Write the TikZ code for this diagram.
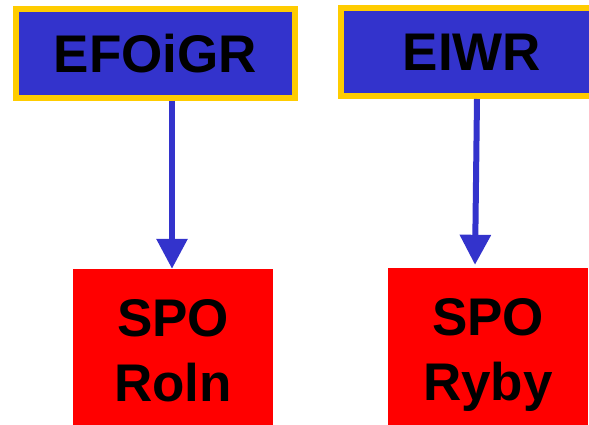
\documentclass[tikz,border=0pt]{standalone}
\usepackage{fontspec}
\setmainfont{Liberation Sans}
\usetikzlibrary{arrows.meta}
\definecolor{boxblue}{RGB}{51,51,204}
\definecolor{boxgold}{RGB}{255,204,0}
\definecolor{boxred}{RGB}{255,0,0}
\begin{document}
\begin{tikzpicture}[x=1pt,y=-1pt,
        topbox/.style={fill=boxblue,draw=boxgold,line width=6pt,inner sep=0pt,
            font=\fontsize{53}{65}\selectfont\bfseries},
        spobox/.style={fill=boxred,inner sep=0pt,align=center,text depth=0pt,
            minimum width=200pt,minimum height=162pt,
            font=\fontsize{53}{65}\selectfont\bfseries},
        link/.style={draw=boxblue,line width=6pt,-{Triangle[width=30pt,length=30pt]}}]
        \useasboundingbox(0,0)rectangle(589,425);
        \node[topbox,minimum width=279.5pt,minimum height=89pt] (efoigr) at (155.5,53.5) {EFOiGR};
        \node[topbox,minimum width=262pt,minimum height=88pt] (eiwr) at (472,52) {EIWR};
        \node[spobox] (roln) at (173,350) {SPO\\Roln};
        \node[spobox,minimum height=163pt] (ryby) at (488,349.5) {SPO\\Ryby};
        \draw[link] ([xshift=16.5pt]efoigr.south) -- ([xshift=-1pt]roln.north);
        \draw[link] ([xshift=5pt]eiwr.south) -- ([xshift=-13pt,yshift=3pt]ryby.north);
    \end{tikzpicture}
\end{document}
